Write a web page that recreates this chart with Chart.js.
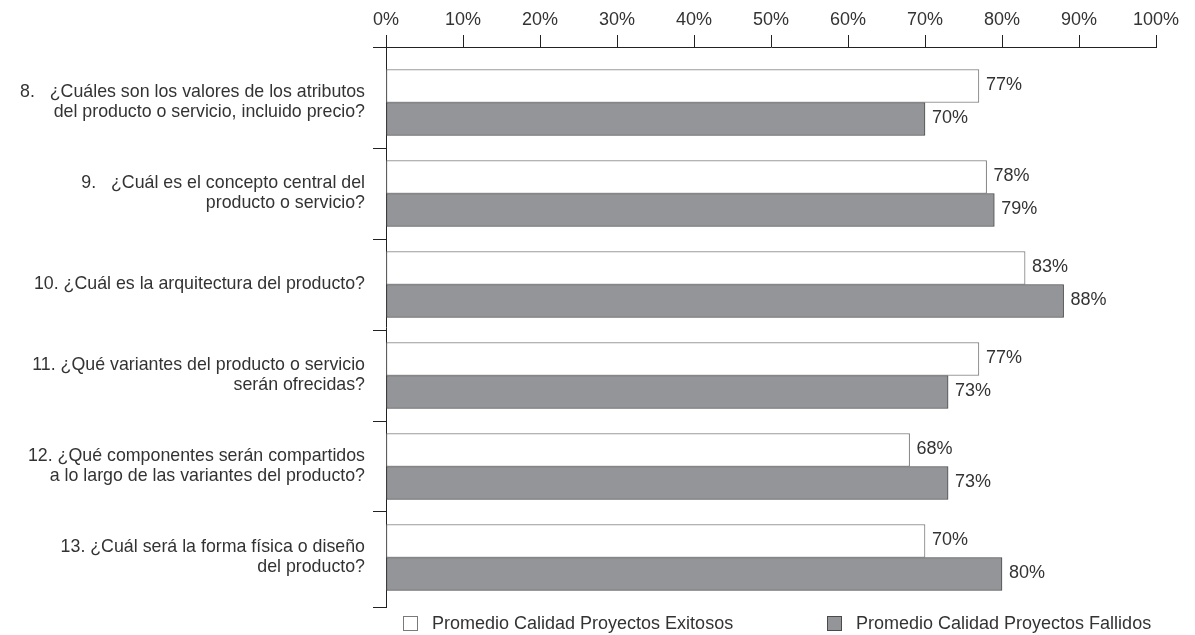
<!DOCTYPE html>
<html lang="es">
<head>
<meta charset="utf-8">
<title>Calidad de las decisiones de producto</title>
<script src="https://cdn.jsdelivr.net/npm/chart.js@4.4.1/dist/chart.umd.min.js"></script>
<style>
  html, body { margin: 0; padding: 0; background: #ffffff; }
  #wrap { width: 1195px; height: 635px; position: relative; }
</style>
</head>
<body>
<div id="wrap"><canvas id="chart" width="1195" height="635"></canvas></div>
<script>
// Preguntas (cada una puede ocupar dos líneas)
const categories = [
  ["8.   ¿Cuáles son los valores de los atributos", "del producto o servicio, incluido precio?"],
  ["9.   ¿Cuál es el concepto central del", "producto o servicio?"],
  ["10. ¿Cuál es la arquitectura del producto?"],
  ["11. ¿Qué variantes del producto o servicio", "serán ofrecidas?"],
  ["12. ¿Qué componentes serán compartidos", "a lo largo de las variantes del producto?"],
  ["13. ¿Cuál será la forma física o diseño", "del producto?"]
];

const seriesNames = ["Promedio Calidad Proyectos Exitosos", "Promedio Calidad Proyectos Fallidos"];
const exitosos = [77, 78, 83, 77, 68, 70];
const fallidos = [70, 79, 88, 73, 73, 80];

const xTickValues = [0, 10, 20, 30, 40, 50, 60, 70, 80, 90, 100];

const FONT = "'Liberation Sans', Arial, Helvetica, sans-serif";
const FONT_SIZE = 18;
const LABEL_SIZE = 17.8;
const TEXT = '#333333';
const AXIS = '#222222';

// Extremos del eje de preguntas (índice de categoría, creciente hacia abajo)
const Y_MIN = -0.61;
const Y_MAX = 5.544;

// Marcas del eje vertical: bordes, centros (con texto) y separaciones entre preguntas
const yTickValues = [Y_MIN];
categories.forEach((c, i) => {
  yTickValues.push(i);
  if (i < categories.length - 1) yTickValues.push(i + 0.5);
});
yTickValues.push(Y_MAX);

const isCenter = v => Number.isInteger(v);

// Etiqueta con el valor a la derecha de cada barra
const valueLabels = {
  id: 'valueLabels',
  afterDatasetsDraw(chart) {
    const ctx = chart.ctx;
    ctx.save();
    ctx.font = FONT_SIZE + 'px ' + FONT;
    ctx.fillStyle = TEXT;
    ctx.textAlign = 'left';
    ctx.textBaseline = 'middle';
    chart.data.datasets.forEach((ds, i) => {
      const meta = chart.getDatasetMeta(i);
      meta.data.forEach((bar, j) => {
        ctx.fillText(ds.data[j].x + '%', bar.x + 7, bar.y - 1);
      });
    });
    ctx.restore();
  }
};

// Leyenda bajo el gráfico
const bottomLegend = {
  id: 'bottomLegend',
  afterDraw(chart) {
    const ctx = chart.ctx;
    const area = chart.chartArea;
    const y = area.bottom + 17;
    const starts = [area.left + 17, area.left + 441];
    ctx.save();
    ctx.font = FONT_SIZE + 'px ' + FONT;
    ctx.textBaseline = 'middle';
    ctx.textAlign = 'left';
    chart.data.datasets.forEach((ds, i) => {
      const x = starts[i];
      ctx.fillStyle = ds.backgroundColor;
      ctx.fillRect(x + 0.5, y - 7.5, 14, 14);
      ctx.strokeStyle = ds.borderColor;
      ctx.lineWidth = 1;
      ctx.strokeRect(x + 0.5, y - 7.5, 14, 14);
      ctx.fillStyle = TEXT;
      ctx.fillText(ds.label, x + 29, y);
    });
    ctx.restore();
  }
};

const toPoints = values => values.map((v, i) => ({ x: v, y: i }));

new Chart(document.getElementById('chart'), {
  type: 'bar',
  data: {
    datasets: [
      {
        label: seriesNames[0],
        data: toPoints(exitosos),
        backgroundColor: '#ffffff',
        borderColor: '#7a7a7a',
        borderWidth: 1,
        borderSkipped: false,
        barThickness: 33
      },
      {
        label: seriesNames[1],
        data: toPoints(fallidos),
        backgroundColor: '#939598',
        borderColor: '#4a4a4a',
        borderWidth: 1,
        borderSkipped: false,
        barThickness: 33
      }
    ]
  },
  options: {
    indexAxis: 'y',
    responsive: false,
    animation: false,
    layout: { padding: { top: 0, right: 39, bottom: 28, left: 0 } },
    plugins: {
      legend: { display: false },
      tooltip: { enabled: false }
    },
    scales: {
      x: {
        type: 'linear',
        position: 'top',
        min: 0,
        max: 100,
        afterBuildTicks(scale) {
          scale.ticks = xTickValues.map(v => ({ value: v }));
        },
        afterFit(scale) { scale.height = 47; },
        ticks: {
          callback: v => v + '%',
          color: TEXT,
          font: { family: FONT, size: FONT_SIZE },
          padding: 4,
          maxRotation: 0,
          autoSkip: false
        },
        grid: {
          drawOnChartArea: false,
          drawTicks: true,
          tickLength: 12,
          color: AXIS,
          lineWidth: 1
        },
        border: { display: true, color: AXIS, width: 1 }
      },
      y: {
        type: 'linear',
        reverse: true,
        offset: false,
        min: Y_MIN,
        max: Y_MAX,
        afterBuildTicks(scale) {
          scale.ticks = yTickValues.map(v => ({ value: v }));
        },
        afterFit(scale) { scale.width = 386; },
        ticks: {
          callback: v => (isCenter(v) ? categories[v] : ''),
          color: TEXT,
          font: { family: FONT, size: LABEL_SIZE, lineHeight: 1.12 },
          padding: 8,
          autoSkip: false
        },
        grid: {
          offset: false,
          drawOnChartArea: false,
          drawTicks: true,
          tickLength: 13,
          color: ctx => (ctx.tick && isCenter(ctx.tick.value) ? 'rgba(0,0,0,0)' : AXIS),
          lineWidth: 1
        },
        border: { display: true, color: AXIS, width: 1 }
      }
    }
  },
  plugins: [valueLabels, bottomLegend]
});
</script>
</body>
</html>
